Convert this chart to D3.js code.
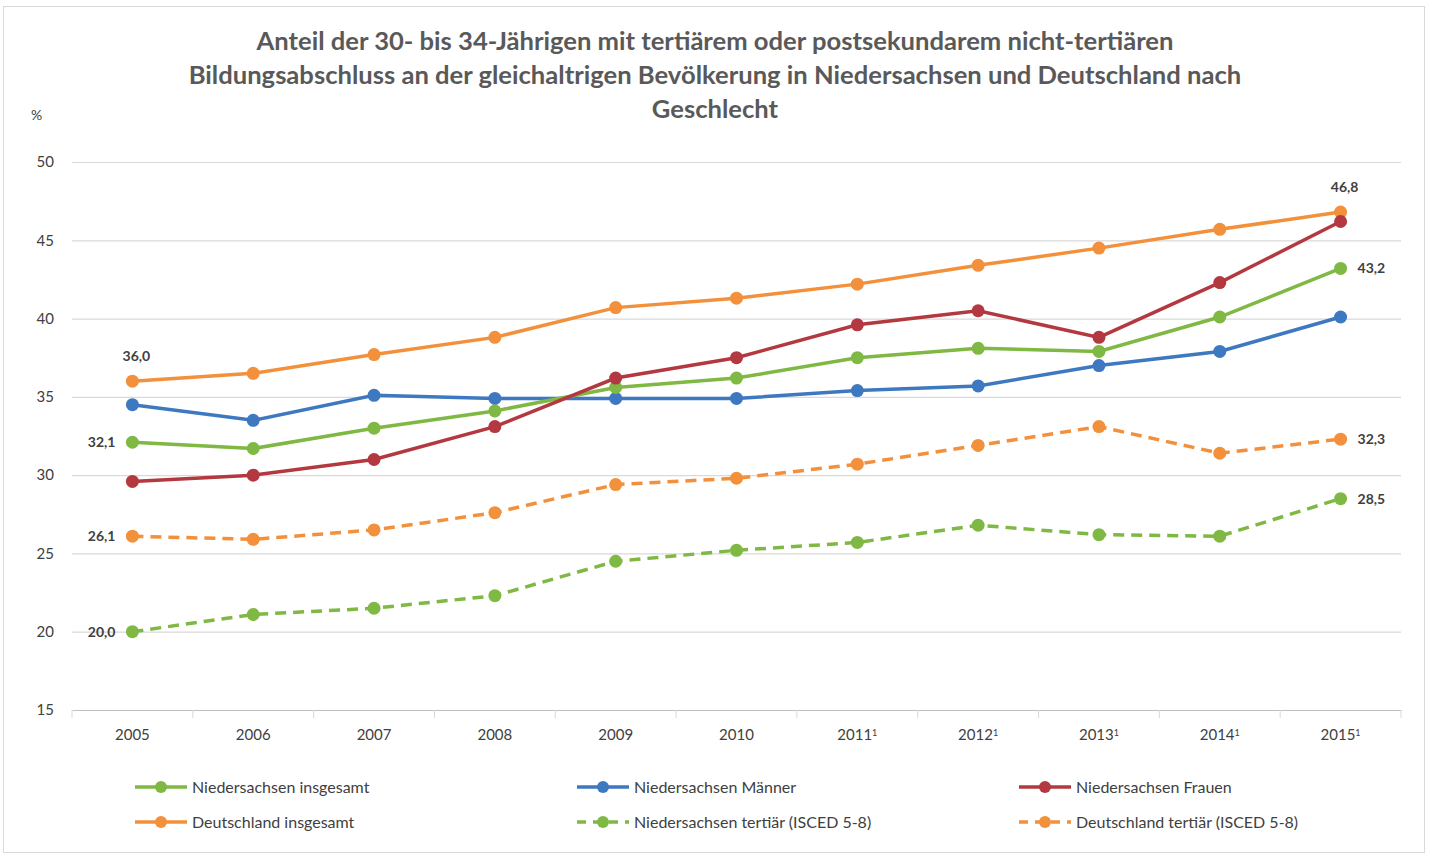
<!DOCTYPE html>
<html>
<head>
<meta charset="utf-8">
<script src="https://cdn.jsdelivr.net/npm/d3@7"></script>
<style>
  body { margin: 0; background: #fff; }
  text { font-family: Lato, "Open Sans", sans-serif; fill: #404040; }
</style>
</head>
<body>
<svg id="chart" width="1429" height="854"></svg>
<script>
// categories (the superscript marks are added at render time)
var years = ["2005", "2006", "2007", "2008", "2009", "2010", "2011", "2012", "2013", "2014", "2015"];
var footnoteYears = ["2011", "2012", "2013", "2014", "2015"];
var yTicks = [15, 20, 25, 30, 35, 40, 45, 50];

var niInsgesamt = [32.1, 31.7, 33.0, 34.1, 35.6, 36.2, 37.5, 38.1, 37.9, 40.1, 43.2];
var niMaenner = [34.5, 33.5, 35.1, 34.9, 34.9, 34.9, 35.4, 35.7, 37.0, 37.9, 40.1];
var niFrauen = [29.6, 30.0, 31.0, 33.1, 36.2, 37.5, 39.6, 40.5, 38.8, 42.3, 46.2];
var deInsgesamt = [36.0, 36.5, 37.7, 38.8, 40.7, 41.3, 42.2, 43.4, 44.5, 45.7, 46.8];
var niTertiaer = [20.0, 21.1, 21.5, 22.3, 24.5, 25.2, 25.7, 26.8, 26.2, 26.1, 28.5];
var deTertiaer = [26.1, 25.9, 26.5, 27.6, 29.4, 29.8, 30.7, 31.9, 33.1, 31.4, 32.3];

var series = [
  { name: "Niedersachsen insgesamt", values: niInsgesamt, color: "#7fb843", dashed: false },
  { name: "Niedersachsen Männer", values: niMaenner, color: "#3d78c1", dashed: false },
  { name: "Niedersachsen Frauen", values: niFrauen, color: "#b4383f", dashed: false },
  { name: "Deutschland insgesamt", values: deInsgesamt, color: "#f3903b", dashed: false },
  { name: "Niedersachsen tertiär (ISCED 5-8)", values: niTertiaer, color: "#7fb843", dashed: true },
  { name: "Deutschland tertiär (ISCED 5-8)", values: deTertiaer, color: "#f3903b", dashed: true }
];
// draw order: bottom to top as in the original
var drawOrder = [5, 4, 3, 1, 0, 2];

var svg = d3.select("#chart");

// outer frame
svg.append("rect")
  .attr("x", 3.5).attr("y", 6.5)
  .attr("width", 1421).attr("height", 846)
  .attr("fill", "none")
  .attr("stroke", "#d9d9d9");

var x = d3.scaleBand().domain(years).range([72, 1401]);
var y = d3.scaleLinear().domain([15, 50]).range([710, 162]);
var cx = function(i) { return x(years[i]) + x.bandwidth() / 2; };

// title
var title = [
  "Anteil der 30- bis 34-Jährigen mit tertiärem oder postsekundarem nicht-tertiären",
  "Bildungsabschluss an der gleichaltrigen Bevölkerung in Niedersachsen und Deutschland nach",
  "Geschlecht"
];
svg.append("g").selectAll("text").data(title).join("text")
  .attr("x", 715)
  .attr("y", function(d, i) { return 50 + i * 34; })
  .attr("text-anchor", "middle")
  .style("font-size", "25.6px")
  .style("font-weight", "bold")
  .style("fill", "#595959")
  .text(function(d) { return d; });

svg.append("text")
  .attr("x", 31).attr("y", 120)
  .style("font-size", "14px")
  .text("%");

// gridlines
svg.append("g").selectAll("line").data(yTicks.slice(1)).join("line")
  .attr("x1", 72).attr("x2", 1401)
  .attr("y1", function(d) { return y(d) + 0.5; })
  .attr("y2", function(d) { return y(d) + 0.5; })
  .attr("stroke", "#d9d9d9")
  .attr("stroke-width", 1.2);

// y axis labels
var yAxis = svg.append("g")
  .attr("transform", "translate(54,0)")
  .call(d3.axisLeft(y).tickValues(yTicks).tickSize(0).tickPadding(0));
yAxis.select(".domain").remove();
yAxis.selectAll("text")
  .style("font-size", "15px")
  .style("font-family", "Lato, 'Open Sans', sans-serif")
  .attr("fill", "#404040");

// x axis
var xAxis = svg.append("g")
  .attr("transform", "translate(0,710)")
  .call(d3.axisBottom(x).tickSize(0).tickPadding(19));
xAxis.select(".domain").attr("stroke", "#bfbfbf").attr("stroke-width", 1.2);
xAxis.selectAll("text")
  .style("font-size", "15px")
  .style("font-family", "Lato, 'Open Sans', sans-serif")
  .attr("fill", "#404040")
  .each(function(d) {
    if (footnoteYears.indexOf(d) >= 0) {
      d3.select(this).append("tspan")
        .attr("dy", "-0.45em")
        .style("font-size", "9px")
        .text("1");
    }
  });
// tick marks at band edges
var edges = years.map(function(d) { return x(d); }).concat([x.range()[1]]);
svg.append("g").selectAll("line").data(edges).join("line")
  .attr("x1", function(d) { return d; }).attr("x2", function(d) { return d; })
  .attr("y1", 710).attr("y2", 718)
  .attr("stroke", "#d9d9d9");

// lines and markers
var line = d3.line()
  .x(function(d, i) { return cx(i); })
  .y(function(d) { return y(d); });

drawOrder.forEach(function(k) {
  var s = series[k];
  var g = svg.append("g");
  g.append("path")
    .datum(s.values)
    .attr("d", line)
    .attr("fill", "none")
    .attr("stroke", s.color)
    .attr("stroke-width", 3.5)
    .attr("stroke-dasharray", s.dashed ? "11,7" : null);
  g.selectAll("circle").data(s.values).join("circle")
    .attr("cx", function(d, i) { return cx(i); })
    .attr("cy", function(d) { return y(d); })
    .attr("r", 6.5)
    .attr("fill", s.color);
});

// data labels
var fmt = function(v) { return v.toFixed(1).replace(".", ","); };
var labels = [
  { s: 3, i: 0, pos: "above" },
  { s: 0, i: 0, pos: "left" },
  { s: 5, i: 0, pos: "left" },
  { s: 4, i: 0, pos: "left" },
  { s: 3, i: 10, pos: "above" },
  { s: 0, i: 10, pos: "right" },
  { s: 5, i: 10, pos: "right" },
  { s: 4, i: 10, pos: "right" }
];
svg.append("g").selectAll("text").data(labels).join("text")
  .attr("x", function(d) {
    var px = cx(d.i);
    if (d.pos === "left") return px - 17;
    if (d.pos === "right") return px + 17;
    return px + 4;
  })
  .attr("y", function(d) {
    var py = y(series[d.s].values[d.i]);
    return d.pos === "above" ? py - 20 : py + 5;
  })
  .attr("text-anchor", function(d) {
    return d.pos === "left" ? "end" : (d.pos === "right" ? "start" : "middle");
  })
  .style("font-size", "14px")
  .style("font-weight", "bold")
  .text(function(d) { return fmt(series[d.s].values[d.i]); });

// legend
var legendX = [135, 577, 1019];
var legendY = [787, 822];
var leg = svg.append("g").selectAll("g").data(series).join("g")
  .attr("transform", function(d, i) {
    return "translate(" + legendX[i % 3] + "," + legendY[Math.floor(i / 3)] + ")";
  });
leg.append("line")
  .attr("x1", 0).attr("x2", 52)
  .attr("stroke", function(d) { return d.color; })
  .attr("stroke-width", 3.5)
  .attr("stroke-dasharray", function(d) { return d.dashed ? "9,7" : null; });
leg.append("circle")
  .attr("cx", 26).attr("r", 6)
  .attr("fill", function(d) { return d.color; });
leg.append("text")
  .attr("x", 57).attr("y", 5.5)
  .style("font-size", "16px")
  .text(function(d) { return d.name; });
</script>
</body>
</html>
